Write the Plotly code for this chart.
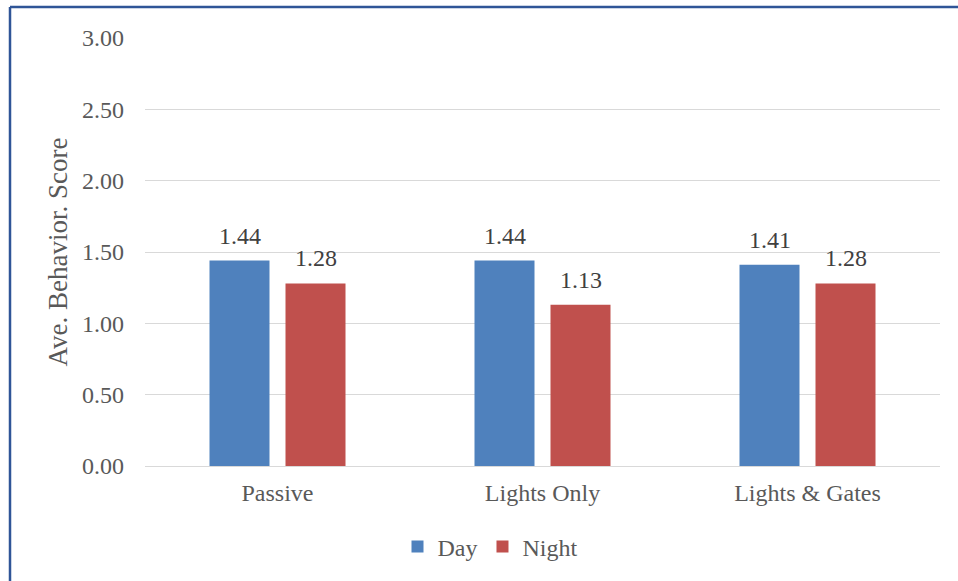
import plotly.graph_objects as go

# Average behavior scores by treatment and time of day
categories = ["Passive", "Lights Only", "Lights & Gates"]
day_scores = [1.44, 1.44, 1.41]
night_scores = [1.28, 1.13, 1.28]
y_ticks = [0.0, 0.5, 1.0, 1.5, 2.0, 2.5, 3.0]

FONT = "Liberation Serif, Times New Roman, serif"
W, H = 958, 581
ML, MR, MT, MB = 145, 18, 38, 115
PW, PH = W - ML - MR, H - MT - MB


def px_x(x):
    return (x - ML) / PW


def px_y(y):
    return (H - MB - y) / PH


fig = go.Figure()
fig.add_trace(go.Bar(name="Day", x=categories, y=day_scores,
                     marker=dict(color="#4F81BD", line=dict(width=0))))
fig.add_trace(go.Bar(name="Night", x=categories, y=night_scores,
                     marker=dict(color="#C0504D", line=dict(width=0))))

# Value labels above each bar
for scores, shift in ((day_scores, -38), (night_scores, 38)):
    for cat, v in zip(categories, scores):
        fig.add_annotation(x=cat, y=v, text=f"{v:.2f}", showarrow=False,
                           xshift=shift, yshift=25, yanchor="middle",
                           font=dict(family=FONT, size=24, color="#404040"))

# Chart frame (left and top edges)
frame = dict(type="line", xref="paper", yref="paper",
             line=dict(color="#2F5597", width=2.5), layer="above")
fig.add_shape(**frame, x0=px_x(10), x1=px_x(10), y0=px_y(7), y1=px_y(H + 5))
fig.add_shape(**frame, x0=px_x(10), x1=px_x(W + 5), y0=px_y(7), y1=px_y(7))

fig.update_layout(
    width=W, height=H,
    margin=dict(l=ML, r=MR, t=MT, b=MB),
    paper_bgcolor="white", plot_bgcolor="white",
    barmode="group", bargap=0.4264, bargroupgap=0.2105,
    font=dict(family=FONT, color="#595959", size=24),
    showlegend=True,
    legend=dict(orientation="h", x=px_x(490), xanchor="center",
                y=px_y(547), yanchor="middle",
                font=dict(family=FONT, size=24, color="#595959"),
                itemwidth=30, tracegroupgap=0, traceorder="normal"),
)
fig.update_xaxes(
    showgrid=False, showline=True, linecolor="#D9D9D9", linewidth=1,
    ticks="", tickfont=dict(family=FONT, size=24, color="#595959"),
    ticklabelstandoff=5,
)
fig.update_yaxes(
    range=[0, 3], tickvals=y_ticks, ticktext=[f"{v:.2f}" for v in y_ticks],
    showgrid=True, gridcolor="#D9D9D9", gridwidth=1,
    zeroline=False, showline=False, ticks="",
    tickfont=dict(family=FONT, size=24, color="#595959"),
    ticklabelstandoff=20,
    title=dict(text="Ave. Behavior. Score", standoff=6,
               font=dict(family=FONT, size=27, color="#595959")),
)

fig.write_html("out.html")
